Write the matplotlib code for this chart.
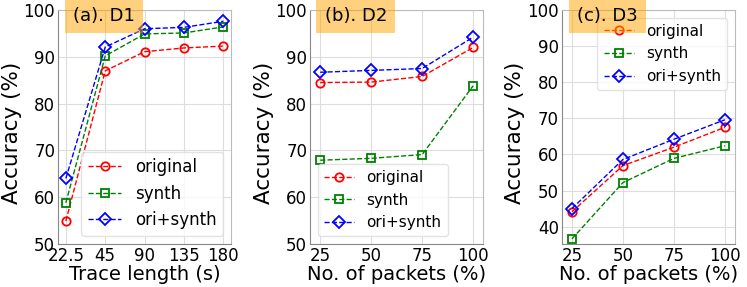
import matplotlib
matplotlib.use('Agg')
import matplotlib.pyplot as plt
import numpy as np

# panel (a): trace length
trace_labels = ['22.5', '45', '90', '135', '180']
a_original = [54.9, 87.0, 91.1, 91.9, 92.3]
a_synth = [58.8, 90.2, 94.9, 95.1, 96.4]
a_orisynth = [64.0, 92.1, 96.0, 96.3, 97.6]

# panels (b), (c): number of packets
pkt_labels = ['25', '50', '75', '100']
b_original = [84.5, 84.6, 85.8, 92.0]
b_synth = [67.9, 68.3, 69.1, 83.8]
b_orisynth = [86.7, 87.1, 87.5, 94.2]

c_original = [44.1, 56.9, 62.0, 67.5]
c_synth = [36.6, 52.2, 58.9, 62.4]
c_orisynth = [45.0, 58.6, 64.2, 69.6]

series_names = ['original', 'synth', 'ori+synth']
colors = ['red', 'green', 'blue']
markers = ['o', 's', 'D']

fig = plt.figure(figsize=(7.47, 2.87), dpi=100)
lefts = [0.0776, 0.415, 0.752]
width = 0.232
bottom, top = 0.150, 0.965
axs = [fig.add_axes([l, bottom, width, top - bottom]) for l in lefts]

panels = [
    (axs[0], trace_labels, [a_original, a_synth, a_orisynth], '(a). D1',
     'Trace length (s)', (50, 100), 'lower right', 12),
    (axs[1], pkt_labels, [b_original, b_synth, b_orisynth], '(b). D2',
     'No. of packets (%)', (50, 100), 'lower left', 11),
    (axs[2], pkt_labels, [c_original, c_synth, c_orisynth], '(c). D3',
     'No. of packets (%)', (35.2, 100), 'upper right', 11),
]

for ax, labels, series, title, xlabel, ylim, legloc, legsize in panels:
    x = np.arange(len(labels))
    for ys, name, c, m in zip(series, series_names, colors, markers):
        ax.plot(x, ys, linestyle='--', color=c, marker=m, markersize=6,
                markerfacecolor='none', markeredgewidth=1.3, linewidth=1,
                label=name)
    ax.set_xticks(x)
    ax.set_xticklabels(labels, fontsize=12)
    ax.set_xlim(-0.2, len(labels) - 0.8)
    ax.set_ylim(*ylim)
    ax.tick_params(axis='y', labelsize=12)
    ax.tick_params(length=0, pad=2)
    ax.grid(True, color='#dddddd', linewidth=0.8)
    ax.set_axisbelow(True)
    for s in ax.spines.values():
        s.set_color('#bbbbbb')
    ax.spines['left'].set_color('#888888')
    ax.spines['bottom'].set_color('#888888')
    ax.set_ylabel('Accuracy (%)', fontsize=15.5, labelpad=1)
    ax.yaxis.set_label_coords(-0.21, 0.475)
    ax.set_xlabel(xlabel, fontsize=14, labelpad=0)
    ax.legend(loc=legloc, fontsize=legsize, handlelength=2.0, fancybox=True,
              framealpha=0.8, edgecolor='#dddddd')
    ax.text(0.265, 0.975, title, transform=ax.transAxes, ha='center',
            va='center', fontsize=13, zorder=10, clip_on=False,
            bbox=dict(facecolor='orange', alpha=0.5, edgecolor='none', pad=6))

fig.savefig('out.png', dpi=100)
